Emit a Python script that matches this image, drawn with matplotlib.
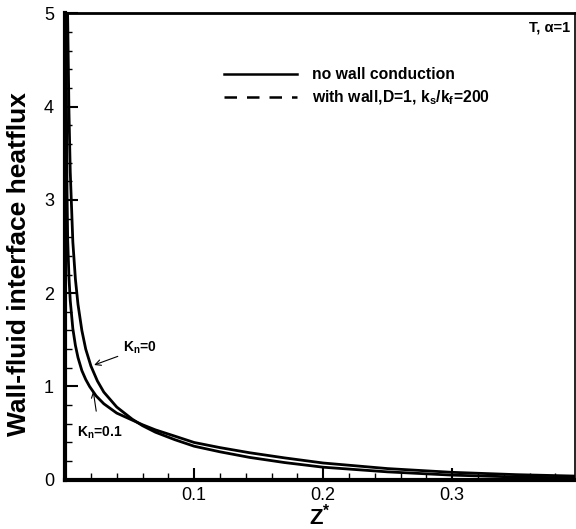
import matplotlib
matplotlib.use("Agg")
import matplotlib.pyplot as plt
from matplotlib.lines import Line2D
from matplotlib.ticker import MultipleLocator

plt.rcParams["font.family"] = ["Liberation Sans", "DejaVu Sans"]
plt.rcParams["mathtext.default"] = "regular"

# Kn = 0 curve
z_kn0 = [0.0019, 0.002, 0.003, 0.004, 0.006, 0.008, 0.010, 0.013, 0.016, 0.020,
         0.025, 0.030, 0.040, 0.052, 0.060, 0.070, 0.085, 0.100, 0.120, 0.143,
         0.170, 0.200, 0.250, 0.300, 0.350, 0.395]
q_kn0 = [5.0, 4.95, 3.95, 3.30, 2.55, 2.15, 1.88, 1.60, 1.40, 1.22,
         1.06, 0.94, 0.78, 0.65, 0.58, 0.51, 0.43, 0.36, 0.30, 0.24,
         0.185, 0.135, 0.085, 0.05, 0.03, 0.02]

# Kn = 0.1 curve
z_kn01 = [0.0008, 0.0011, 0.0015, 0.002, 0.003, 0.004, 0.006, 0.008, 0.010, 0.013,
          0.016, 0.019, 0.024, 0.030, 0.040, 0.052, 0.060, 0.070, 0.085, 0.100,
          0.120, 0.143, 0.170, 0.200, 0.250, 0.300, 0.350, 0.395]
q_kn01 = [5.0, 4.0, 3.1, 2.58, 2.17, 1.92, 1.62, 1.44, 1.31, 1.17,
          1.075, 1.0, 0.90, 0.815, 0.715, 0.64, 0.59, 0.535, 0.468, 0.40,
          0.345, 0.29, 0.235, 0.18, 0.12, 0.08, 0.055, 0.04]

fig = plt.figure(figsize=(5.76, 5.29), dpi=100)
ax = fig.add_axes([0.113, 0.093, 0.885, 0.882])

ax.plot(z_kn0, q_kn0, color="black", linewidth=2)
ax.plot(z_kn01, q_kn01, color="black", linewidth=2)

ax.set_xlim(0, 0.395)
ax.set_ylim(0, 5)
ax.set_xticks([0.1, 0.2, 0.3])
ax.set_xticklabels(["0.1", "0.2", "0.3"])
ax.set_yticks([0, 1, 2, 3, 4, 5])
ax.xaxis.set_minor_locator(MultipleLocator(0.02))
ax.yaxis.set_minor_locator(MultipleLocator(0.2))
ax.tick_params(which="major", direction="in", length=9, width=1.5, labelsize=13, pad=5)
ax.tick_params(which="minor", direction="in", length=5, width=1)
ax.tick_params(axis="y", which="major", pad=8)

ax.spines["left"].set_linewidth(3)
ax.spines["bottom"].set_linewidth(3)
ax.spines["top"].set_linewidth(2)
ax.spines["right"].set_linewidth(1.2)

ax.set_xlabel("Z$^{*}$", fontsize=16, fontweight="bold", labelpad=0)
ax.set_ylabel("Wall-fluid interface heatflux", fontsize=19, fontweight="bold")
ax.yaxis.set_label_coords(-0.066, 0.463)

ax.text(0.99, 0.985, "T, α=1", transform=ax.transAxes, ha="right", va="top",
        fontsize=10.5, fontweight="bold")

ax.annotate("K$_n$=0", xy=(0.0205, 1.22), xytext=(0.045, 1.41),
            fontsize=10, fontweight="bold", va="center", ha="left",
            arrowprops=dict(arrowstyle="->", color="black", lw=0.8))
ax.annotate("K$_n$=0.1", xy=(0.0215, 0.98), xytext=(0.009, 0.5),
            fontsize=10, fontweight="bold", va="center", ha="left",
            arrowprops=dict(arrowstyle="->", color="black", lw=0.8,
                            shrinkA=8))

handles = [Line2D([], [], color="black", linewidth=1.8),
           Line2D([], [], color="black", linewidth=1.8, linestyle=(0, (5, 4)))]
labels = ["no wall conduction", "with wall,D=1, k$_s$/k$_f$=200"]
leg = ax.legend(handles, labels, loc="upper left", bbox_to_anchor=(0.285, 0.915),
                frameon=False, handlelength=4.6, handletextpad=0.95,
                labelspacing=0.45, prop={"size": 11.3, "weight": "bold"})

fig.savefig("out.png", dpi=100)
